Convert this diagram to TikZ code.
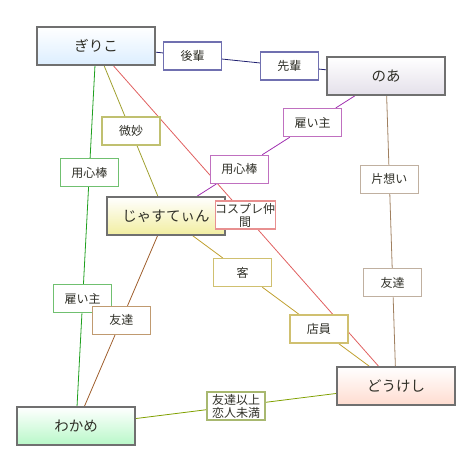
\documentclass[tikz,border=0pt]{standalone}
\usepackage{fontspec}
\setmainfont{Noto Sans CJK JP}
\usetikzlibrary{calc}
\pgfdeclarelayer{background}
\pgfsetlayers{background,main}
\definecolor{mainborder}{HTML}{707070}
\definecolor{txt}{HTML}{303028}
\definecolor{gBlue}{HTML}{DCEEFF}
\definecolor{gLav}{HTML}{E4E0EA}
\definecolor{gYel}{HTML}{F2EEA0}
\definecolor{gGrn}{HTML}{B8F8C8}
\definecolor{gPch}{HTML}{FFDCD0}
\definecolor{bNavy}{HTML}{7070B0}
\definecolor{bOlive}{HTML}{C0C070}
\definecolor{bGreen}{HTML}{70C070}
\definecolor{bPurple}{HTML}{C070C0}
\definecolor{bTan}{HTML}{C0B0A0}
\definecolor{bPink}{HTML}{E89090}
\definecolor{bGold}{HTML}{D0C070}
\definecolor{bBrown}{HTML}{C09A70}
\definecolor{bLime}{HTML}{A8B870}
\definecolor{lNavy}{HTML}{202070}
\definecolor{lGreen}{HTML}{20A020}
\definecolor{lOlive}{HTML}{A0A030}
\definecolor{lRed}{HTML}{E06060}
\definecolor{lPurple}{HTML}{A030B0}
\definecolor{lTan}{HTML}{A08060}
\definecolor{lBrown}{HTML}{A06030}
\definecolor{lGold}{HTML}{C0A030}
\definecolor{lLime}{HTML}{80A000}
\begin{document}
\begin{tikzpicture}[x=1pt,y=-1pt,
  person/.style={draw=mainborder, line width=1.6pt, minimum width=118pt, minimum height=38pt,
    inner sep=0pt, font=\fontsize{14.5}{16}\selectfont, text=txt, top color=white, bottom color=#1},
  rel/.style={draw=#1, line width=1.2pt, fill=white, minimum width=58pt, minimum height=28pt,
    inner sep=0pt, font=\fontsize{12}{13}\selectfont, text=txt, align=center},
  link/.style={draw=#1, line width=0.8pt}]
\useasboundingbox (0,0) rectangle (470,460);
% people
\node[person=gBlue] (giriko) at (96,46) {ぎりこ};
\node[person=gLav] (noa) at (386,76) {のあ};
\node[person=gYel] (justin) at (166,216) {じゃすてぃん};
\node[person=gGrn] (wakame) at (76,426) {わかめ};
\node[person=gPch] (doukeshi) at (396,386) {どうけし};
% relation labels
\node[rel=bNavy] (kohai) at ($(giriko)!0.333!(noa)$) {後輩};
\node[rel=bNavy] (senpai) at ($(giriko)!0.667!(noa)$) {先輩};
\node[rel=bOlive] (bimyo) at ($(giriko)!0.5!(justin)$) {微妙};
\node[rel=bGreen] (yojinboG) at ($(giriko)!0.333!(wakame)$) {用心棒};
\node[rel=bGreen] (yatoiG) at ($(giriko)!0.665!(wakame)$) {雇い主};
\node[rel=bPurple] (yatoiP) at ($(noa)!0.333!(justin)$) {雇い主};
\node[rel=bPurple] (yojinboP) at ($(noa)!0.667!(justin)$) {用心棒};
\node[rel=bTan] (kataomoi) at ($(noa)!0.333!(doukeshi)$) {片想い};
\node[rel=bTan] (tomoR) at ($(noa)!0.667!(doukeshi)$) {友達};
\node[rel=bPink] (cosplay) at ($(giriko)!0.497!(doukeshi)$) {コスプレ仲\\間};
\node[rel=bGold] (kyaku) at ($(justin)!0.333!(doukeshi)$) {客};
\node[rel=bGold] (tenin) at ($(justin)!0.665!(doukeshi)$) {店員};
\node[rel=bBrown] (tomoL) at ($(justin)!0.497!(wakame)$) {友達};
\node[rel=bLime] (koibito) at ($(wakame)!0.5!(doukeshi)$) {友達以上\\恋人未満};
% connectors
\begin{pgfonlayer}{background}
\draw[link=lNavy] (giriko) -- (kohai) -- (senpai) -- (noa);
\draw[link=lGreen] (giriko) -- (yojinboG) -- (yatoiG) -- (wakame);
\draw[link=lOlive] (giriko) -- (bimyo) -- (justin);
\draw[link=lRed] (giriko) -- (cosplay) -- (doukeshi);
\draw[link=lPurple] (noa) -- (yatoiP) -- (yojinboP) -- (justin);
\draw[link=lTan] (noa) -- (kataomoi) -- (tomoR) -- (doukeshi);
\draw[link=lBrown] (justin) -- (tomoL) -- (wakame);
\draw[link=lGold] (justin) -- (kyaku) -- (tenin) -- (doukeshi);
\draw[link=lLime] (wakame) -- (koibito) -- (doukeshi);
\end{pgfonlayer}
\end{tikzpicture}
\end{document}
